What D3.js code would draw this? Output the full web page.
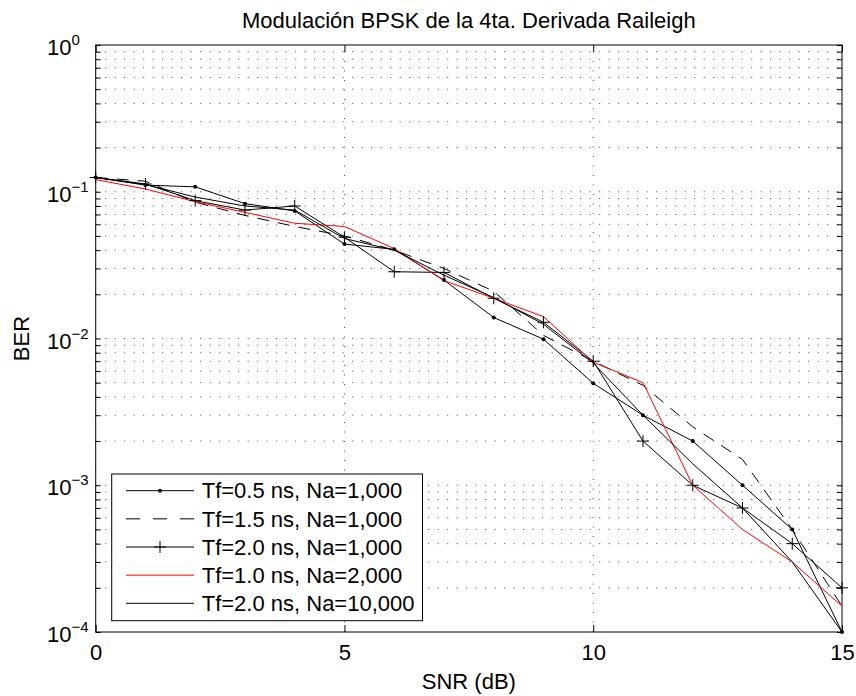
<!DOCTYPE html>
<html>
<head>
<meta charset="utf-8">
<script src="https://cdn.jsdelivr.net/npm/d3@7"></script>
<style>
  body { margin: 0; background: #fff; }
  text { font-family: "Liberation Sans", Arial, sans-serif; fill: #000; }
</style>
</head>
<body>
<div id="container"></div>
<script>
/* CONSTANTS AND GLOBALS */
const width = 856,
  height = 696,
  margin = { top: 45, bottom: 64, left: 95.7, right: 14 }
const fontSize = 22

/* DATA */
const snr = [0, 1, 2, 3, 4, 5, 6, 7, 8, 9, 10, 11, 12, 13, 14, 15]
const berTf05 = [0.125, 0.111, 0.108, 0.083, 0.074, 0.044, 0.0405, 0.025, 0.0139, 0.0099, 0.00495, 0.003, 0.002, 0.001, 0.0005, 0.0001]
const berTf15 = [0.125, 0.118, 0.085, 0.069, 0.058, 0.050, 0.040, 0.030, 0.021, 0.0105, 0.007, 0.0048, 0.0025, 0.0015, 0.0005, 0.00015]
const berTf20 = [0.125, 0.113, 0.087, 0.075, 0.080, 0.049, 0.0285, 0.0282, 0.0188, 0.0129, 0.007, 0.002, 0.001, 0.0007, 0.0004, 0.0002]
const berTf10Na2k = [0.121, 0.1044, 0.0856, 0.0724, 0.061, 0.058, 0.041, 0.0248, 0.0188, 0.0141, 0.0069, 0.005, 0.001, 0.0005, 0.0003, 0.00015]
const berTf20Na10k = [0.125, 0.112, 0.092, 0.080, 0.075, 0.048, 0.040, 0.027, 0.019, 0.0125, 0.0068, 0.003, 0.0014, 0.0007, 0.0003, 0.0001]

const seriesNames = ["Tf=0.5 ns, Na=1,000", "Tf=1.5 ns, Na=1,000", "Tf=2.0 ns, Na=1,000", "Tf=1.0 ns, Na=2,000", "Tf=2.0 ns, Na=10,000"]
const xTicks = [0, 5, 10, 15]
const yMajor = [1e-4, 1e-3, 1e-2, 1e-1, 1]
const yExp = ["\u22124", "\u22123", "\u22122", "\u22121", "0"]

const series = [
  { name: seriesNames[0], values: berTf05, color: "#000", dash: null, marker: "dot" },
  { name: seriesNames[1], values: berTf15, color: "#000", dash: "12,9", marker: null },
  { name: seriesNames[2], values: berTf20, color: "#000", dash: null, marker: "plus" },
  { name: seriesNames[3], values: berTf10Na2k, color: "#ff0000", dash: null, marker: null },
  { name: seriesNames[4], values: berTf20Na10k, color: "#000", dash: null, marker: null }
]

/* SCALES */
const xScale = d3.scaleLinear()
  .domain([0, 15])
  .range([margin.left, width - margin.right])

const yScale = d3.scaleLog()
  .domain([1e-4, 1])
  .range([height - margin.bottom, margin.top])

// all log ticks: 1..9 x each decade
const yAll = []
for (let e = -4; e < 0; e++) for (let m = 1; m < 10; m++) yAll.push(m * Math.pow(10, e))
yAll.push(1)

/* HTML ELEMENTS */
const svg = d3.select("#container")
  .append("svg")
  .attr("width", width)
  .attr("height", height)

const x0 = xScale.range()[0], x1 = xScale.range()[1]
const y0 = yScale.range()[0], y1 = yScale.range()[1]

// grid
svg.append("g")
  .selectAll("line")
  .data(yAll.filter(v => v > 1e-4 && v < 1))
  .join("line")
  .attr("x1", x0).attr("x2", x1)
  .attr("y1", d => yScale(d)).attr("y2", d => yScale(d))
  .attr("stroke", "#444").attr("stroke-width", 1)
  .attr("stroke-dasharray", "1,8.5")

svg.append("g")
  .selectAll("line")
  .data(xTicks.filter(v => v > 0 && v < 15))
  .join("line")
  .attr("x1", d => xScale(d)).attr("x2", d => xScale(d))
  .attr("y1", y0).attr("y2", y1)
  .attr("stroke", "#444").attr("stroke-width", 1)
  .attr("stroke-dasharray", "1,8.5")

// axes (ticks inward)
const xAxis = d3.axisBottom(xScale).tickValues(xTicks).tickSizeInner(-7).tickSizeOuter(0).tickPadding(12)
const xAxisTop = d3.axisTop(xScale).tickValues(xTicks).tickSizeInner(-7).tickSizeOuter(0).tickFormat("")
const yAxis = d3.axisLeft(yScale).tickValues(yAll).tickSizeInner(-5).tickSizeOuter(0).tickFormat("")
const yAxisRight = d3.axisRight(yScale).tickValues(yAll).tickSizeInner(-5).tickSizeOuter(0).tickFormat("")

svg.append("g")
  .attr("transform", `translate(0,${y0})`)
  .call(xAxis)
  .call(g => g.select(".domain").remove())
  .call(g => g.selectAll(".tick text").attr("font-size", fontSize).attr("font-family", "Liberation Sans, Arial, sans-serif"))

svg.append("g")
  .attr("transform", `translate(0,${y1})`)
  .call(xAxisTop)
  .call(g => g.select(".domain").remove())

svg.append("g")
  .attr("transform", `translate(${x0},0)`)
  .call(yAxis)
  .call(g => g.select(".domain").remove())

svg.append("g")
  .attr("transform", `translate(${x1},0)`)
  .call(yAxisRight)
  .call(g => g.select(".domain").remove())

// y tick labels 10^n
const yLab = svg.append("g")
  .selectAll("text")
  .data(yMajor)
  .join("text")
  .attr("x", 47)
  .attr("y", d => yScale(d) + 10)
  .attr("font-size", fontSize)
yLab.append("tspan").text("10")
yLab.append("tspan")
  .attr("font-size", 15)
  .attr("dy", -10)
  .text((d, i) => yExp[i])

// frame
svg.append("rect")
  .attr("x", x0).attr("y", y1)
  .attr("width", x1 - x0).attr("height", y0 - y1)
  .attr("fill", "none").attr("stroke", "#000").attr("stroke-width", 1)

// lines
const line = d3.line()
  .x((d, i) => xScale(snr[i]))
  .y(d => yScale(d))

const plot = svg.append("g")
plot.selectAll("path.series")
  .data(series)
  .join("path")
  .attr("class", "series")
  .attr("d", d => line(d.values))
  .attr("fill", "none")
  .attr("stroke", d => d.color)
  .attr("stroke-width", 1)
  .attr("stroke-dasharray", d => d.dash)

// markers
plot.selectAll("circle.dot")
  .data(berTf05)
  .join("circle")
  .attr("class", "dot")
  .attr("cx", (d, i) => xScale(snr[i]))
  .attr("cy", d => yScale(d))
  .attr("r", 2)
  .attr("fill", "#000")

const plusPath = s => `M${-s},0H${s}M0,${-s}V${s}`
plot.selectAll("path.plus")
  .data(berTf20)
  .join("path")
  .attr("class", "plus")
  .attr("transform", (d, i) => `translate(${xScale(snr[i])},${yScale(d)})`)
  .attr("d", plusPath(6))
  .attr("stroke", "#000")
  .attr("stroke-width", 1)

// legend
const leg = svg.append("g")
const legBox = leg.append("rect")
  .attr("x", 111.7).attr("y", 474)
  .attr("height", 146.7)
  .attr("fill", "#fff").attr("stroke", "#000").attr("stroke-width", 1)

const rows = leg.selectAll("g.row")
  .data(series)
  .join("g")
  .attr("class", "row")
  .attr("transform", (d, i) => `translate(0,${490.7 + i * 28.15})`)

rows.append("line")
  .attr("x1", 126).attr("x2", 194)
  .attr("stroke", d => d.color)
  .attr("stroke-width", 1)
  .attr("stroke-dasharray", d => d.dash ? "14,13" : null)

rows.filter(d => d.marker === "dot").append("circle")
  .attr("cx", 160).attr("r", 2).attr("fill", "#000")
rows.filter(d => d.marker === "plus").append("path")
  .attr("transform", "translate(160,0)")
  .attr("d", plusPath(6)).attr("stroke", "#000")

const legText = rows.append("text")
  .attr("x", 201.7)
  .attr("dy", "0.35em")
  .attr("font-size", fontSize)
  .text(d => d.name)

const textRight = d3.max(legText.nodes(), n => n.getBBox().x + n.getBBox().width)
legBox.attr("width", textRight + 8 - 111.7)

// titles
svg.append("text")
  .attr("x", (x0 + x1) / 2)
  .attr("y", 28)
  .attr("text-anchor", "middle")
  .attr("font-size", fontSize)
  .text("Modulación BPSK de la 4ta. Derivada Raileigh")

svg.append("text")
  .attr("x", (x0 + x1) / 2)
  .attr("y", 689)
  .attr("text-anchor", "middle")
  .attr("font-size", fontSize)
  .text("SNR (dB)")

svg.append("text")
  .attr("transform", `translate(29,${(y0 + y1) / 2}) rotate(-90)`)
  .attr("text-anchor", "middle")
  .attr("font-size", fontSize)
  .text("BER")
</script>
</body>
</html>
